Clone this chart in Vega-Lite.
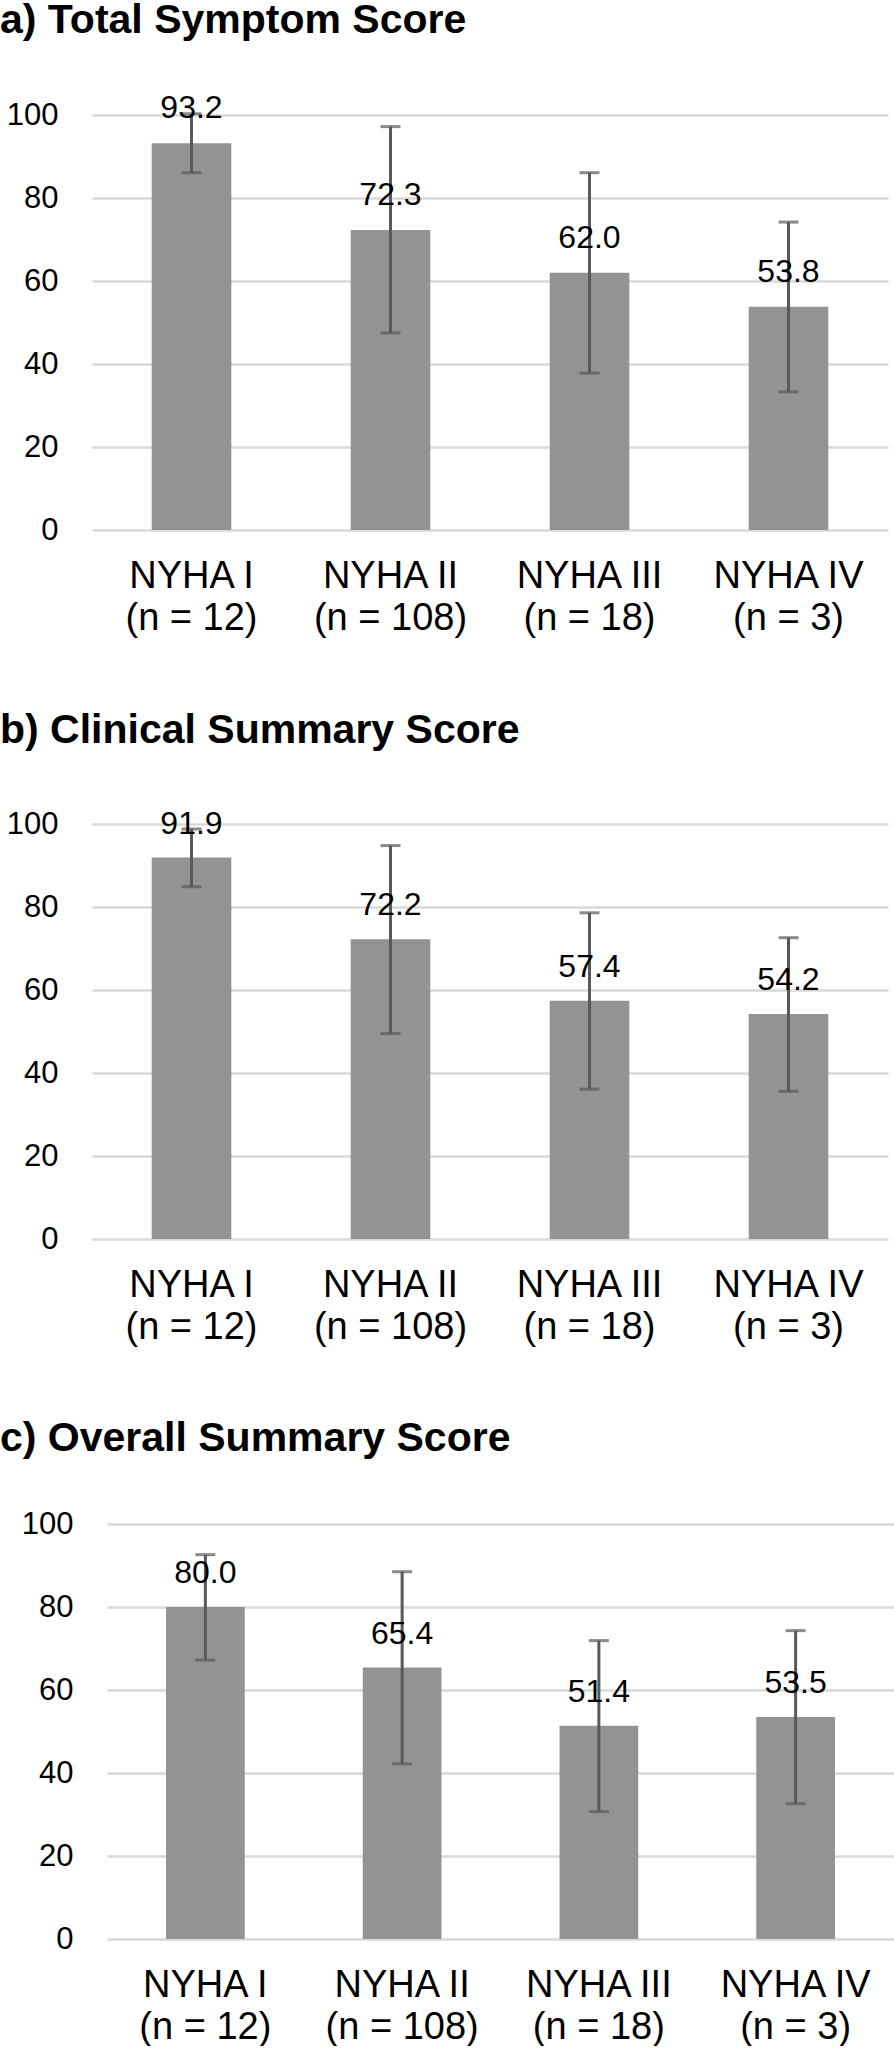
{
  "$schema": "https://vega.github.io/schema/vega-lite/v6.json",
  "padding": 0,
  "background": "white",
  "spacing": 72,
  "config": {
    "view": {"stroke": null},
    "font": "Liberation Sans",
    "title": {"anchor": "start", "fontSize": 41, "fontWeight": "bold", "font": "Liberation Sans", "color": "#000000", "frame": "bounds"},
    "axisX": {"title": null, "labelAngle": 0, "labelFontSize": 38, "labelColor": "#000000", "labelFont": "Liberation Sans", "ticks": false, "tickSize": 0, "domain": false, "grid": false, "labelPadding": 27, "labelLineHeight": 42, "labelLimit": 400, "labelExpr": "[slice(datum.label, 0, indexof(datum.label, ' (')), slice(datum.label, indexof(datum.label, ' (') + 1)]"},
    "axisY": {"title": null, "grid": true, "gridColor": "#d9d9d9", "gridWidth": 2.5, "domain": false, "ticks": false, "tickSize": 0, "labelFontSize": 31, "labelColor": "#000000", "labelFont": "Liberation Sans", "labelPadding": 34}
  },
  "datasets": {
    "scores": [
      {"panel": "a", "group": "NYHA I (n = 12)", "mean": 93.2, "lo": 86.1, "hi": 100.3},
      {"panel": "a", "group": "NYHA II (n = 108)", "mean": 72.3, "lo": 47.5, "hi": 97.2},
      {"panel": "a", "group": "NYHA III (n = 18)", "mean": 62.0, "lo": 37.8, "hi": 86.1},
      {"panel": "a", "group": "NYHA IV (n = 3)", "mean": 53.8, "lo": 33.3, "hi": 74.2},
      {"panel": "b", "group": "NYHA I (n = 12)", "mean": 91.9, "lo": 84.9, "hi": 98.8},
      {"panel": "b", "group": "NYHA II (n = 108)", "mean": 72.2, "lo": 49.5, "hi": 94.8},
      {"panel": "b", "group": "NYHA III (n = 18)", "mean": 57.4, "lo": 36.1, "hi": 78.6},
      {"panel": "b", "group": "NYHA IV (n = 3)", "mean": 54.2, "lo": 35.6, "hi": 72.6},
      {"panel": "c", "group": "NYHA I (n = 12)", "mean": 80.0, "lo": 67.2, "hi": 92.6},
      {"panel": "c", "group": "NYHA II (n = 108)", "mean": 65.4, "lo": 42.2, "hi": 88.5},
      {"panel": "c", "group": "NYHA III (n = 18)", "mean": 51.4, "lo": 30.7, "hi": 71.9},
      {"panel": "c", "group": "NYHA IV (n = 3)", "mean": 53.5, "lo": 32.6, "hi": 74.3}
    ]
  },
  "vconcat": [
    {
      "title": {"text": "a) Total Symptom Score", "offset": 50},
      "width": 796, "height": 415,
      "data": {"name": "scores"},
      "transform": [{"filter": "datum.panel === 'a'"}],
      "encoding": {"x": {"field": "group", "type": "nominal", "sort": null, "title": null, "scale": {"paddingInner": 0.6, "paddingOuter": 0.3}}},
      "layer": [
        {"mark": {"type": "bar", "color": "#939393"}, "encoding": {"y": {"field": "mean", "type": "quantitative", "title": null, "scale": {"domain": [0, 100], "nice": false}, "axis": {"minExtent": 92, "values": [0, 20, 40, 60, 80, 100]}}}},
        {"mark": {"type": "rule", "color": "#595959", "strokeWidth": 3}, "encoding": {"y": {"field": "lo", "type": "quantitative", "title": null}, "y2": {"field": "hi"}}},
        {"mark": {"type": "tick", "color": "#595959", "size": 20, "thickness": 3}, "encoding": {"y": {"field": "lo", "type": "quantitative", "title": null}}},
        {"mark": {"type": "tick", "color": "#595959", "size": 20, "thickness": 3}, "encoding": {"y": {"field": "hi", "type": "quantitative", "title": null}}},
        {"mark": {"type": "text", "fontSize": 32, "dy": -25, "baseline": "alphabetic", "color": "#000000"}, "encoding": {"y": {"field": "mean", "type": "quantitative", "title": null}, "text": {"field": "mean", "type": "quantitative", "format": ".1f"}}}
      ]
    },
    {
      "title": {"text": "b) Clinical Summary Score", "offset": 56},
      "width": 796, "height": 415,
      "data": {"name": "scores"},
      "transform": [{"filter": "datum.panel === 'b'"}],
      "encoding": {"x": {"field": "group", "type": "nominal", "sort": null, "title": null, "scale": {"paddingInner": 0.6, "paddingOuter": 0.3}}},
      "layer": [
        {"mark": {"type": "bar", "color": "#939393"}, "encoding": {"y": {"field": "mean", "type": "quantitative", "title": null, "scale": {"domain": [0, 100], "nice": false}, "axis": {"minExtent": 92, "values": [0, 20, 40, 60, 80, 100]}}}},
        {"mark": {"type": "rule", "color": "#595959", "strokeWidth": 3}, "encoding": {"y": {"field": "lo", "type": "quantitative", "title": null}, "y2": {"field": "hi"}}},
        {"mark": {"type": "tick", "color": "#595959", "size": 20, "thickness": 3}, "encoding": {"y": {"field": "lo", "type": "quantitative", "title": null}}},
        {"mark": {"type": "tick", "color": "#595959", "size": 20, "thickness": 3}, "encoding": {"y": {"field": "hi", "type": "quantitative", "title": null}}},
        {"mark": {"type": "text", "fontSize": 32, "dy": -24, "baseline": "alphabetic", "color": "#000000"}, "encoding": {"y": {"field": "mean", "type": "quantitative", "title": null}, "text": {"field": "mean", "type": "quantitative", "format": ".1f"}}}
      ]
    },
    {
      "title": {"text": "c) Overall Summary Score", "offset": 48},
      "width": 802, "height": 415,
      "data": {"name": "scores"},
      "transform": [{"filter": "datum.panel === 'c'"}],
      "encoding": {"x": {"field": "group", "type": "nominal", "sort": null, "title": null, "scale": {"range": [15, 802], "paddingInner": 0.6, "paddingOuter": 0.3}}},
      "layer": [
        {"mark": {"type": "bar", "color": "#939393"}, "encoding": {"y": {"field": "mean", "type": "quantitative", "title": null, "scale": {"domain": [0, 100], "nice": false}, "axis": {"minExtent": 107, "offset": -15, "values": [0, 20, 40, 60, 80, 100]}}}},
        {"mark": {"type": "rule", "color": "#595959", "strokeWidth": 3}, "encoding": {"y": {"field": "lo", "type": "quantitative", "title": null}, "y2": {"field": "hi"}}},
        {"mark": {"type": "tick", "color": "#595959", "size": 20, "thickness": 3}, "encoding": {"y": {"field": "lo", "type": "quantitative", "title": null}}},
        {"mark": {"type": "tick", "color": "#595959", "size": 20, "thickness": 3}, "encoding": {"y": {"field": "hi", "type": "quantitative", "title": null}}},
        {"mark": {"type": "text", "fontSize": 32, "dy": -24, "baseline": "alphabetic", "color": "#000000"}, "encoding": {"y": {"field": "mean", "type": "quantitative", "title": null}, "text": {"field": "mean", "type": "quantitative", "format": ".1f"}}}
      ]
    }
  ]
}
